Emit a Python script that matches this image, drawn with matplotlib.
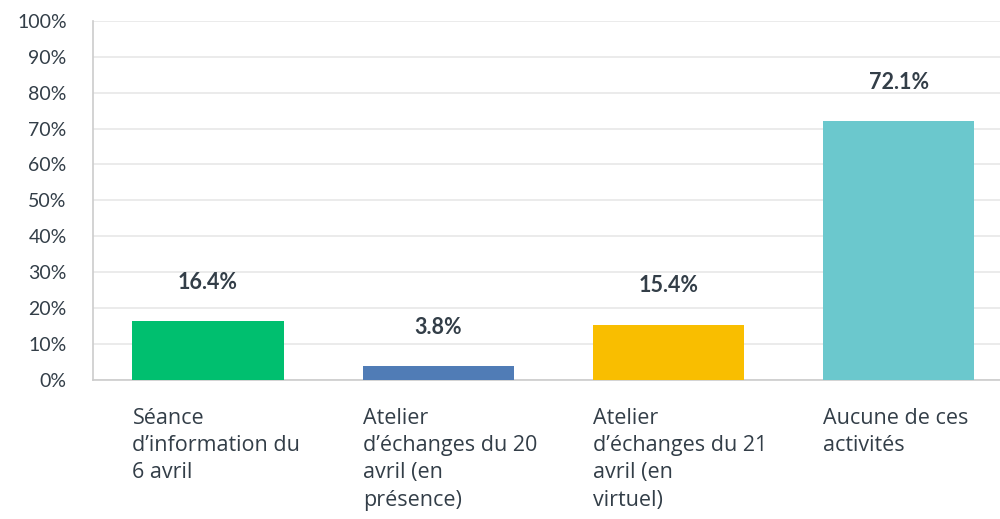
import matplotlib
matplotlib.use("Agg")
import matplotlib.pyplot as plt

plt.rcParams['font.family'] = ['Lato', 'DejaVu Sans']

categories = [
    "Séance\nd\u2019information du\n6 avril",
    "Atelier\nd\u2019échanges du 20\navril (en\nprésence)",
    "Atelier\nd\u2019échanges du 21\navril (en\nvirtuel)",
    "Aucune de ces\nactivités",
]
values = [16.4, 3.8, 15.4, 72.1]
colors = ["#00BF6F", "#507CB6", "#F9BE00", "#6BC8CD"]
yticks = list(range(0, 101, 10))

text_color = "#333E48"
bar_w = 0.657

fig = plt.figure(figsize=(10, 5.19), dpi=100)
ax = fig.add_axes([0.093, 0.268, 0.907, 0.692])

x = list(range(len(values)))
ax.bar(x, values, width=bar_w, color=colors, zorder=3)

for xi, v in zip(x, values):
    ax.annotate(f"{v:.1f}%", xy=(xi, v), xytext=(0, 28), textcoords="offset points",
                ha="center", va="center", fontsize=15.5, fontweight="bold",
                color=text_color)

for xi, lab in zip(x, categories):
    ax.annotate(lab, xy=(xi - bar_w / 2, 0), xycoords=("data", "axes fraction"),
                xytext=(0, -20), textcoords="offset points",
                ha="left", va="top", fontsize=15.5, color=text_color,
                family=["Open Sans", "DejaVu Sans"],
                linespacing=1.4, annotation_clip=False)

ax.set_xlim(-0.5, 3.44)
ax.set_ylim(0, 100)
ax.set_yticks(yticks)
ax.set_yticklabels([f"{t}%" for t in yticks], fontsize=14, color=text_color)
ax.set_xticks([])
ax.tick_params(axis="y", length=0, pad=19)
ax.grid(axis="y", color="#E8E8E8", linewidth=1.2, zorder=0)
for s in ["top", "right"]:
    ax.spines[s].set_visible(False)
for s in ["left", "bottom"]:
    ax.spines[s].set_color("#CCCCCC")
    ax.spines[s].set_linewidth(1.2)

fig.savefig("out.png", dpi=100)
